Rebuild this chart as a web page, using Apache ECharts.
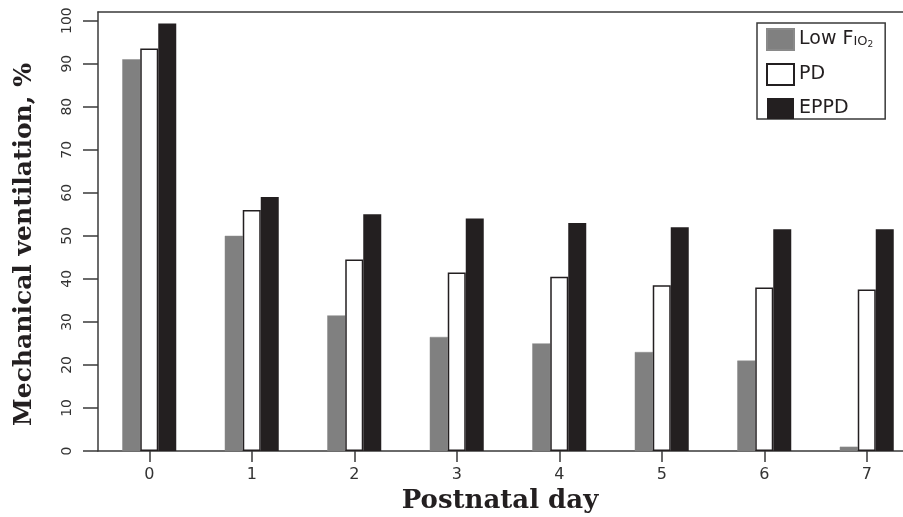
<!DOCTYPE html>
<html>
<head>
<meta charset="utf-8">
<script src="https://cdn.jsdelivr.net/npm/echarts@6/dist/echarts.min.js"></script>
<style>
html, body { margin: 0; padding: 0; background: #fff; }
#chart { width: 903px; height: 517px; }
</style>
</head>
<body>
<div id="chart"></div>
<script>
const categories = ['0', '1', '2', '3', '4', '5', '6', '7'];
const seriesNames = ['Low FIO2', 'PD', 'EPPD'];
const lowFio2 = [91, 50, 31.5, 26.5, 25, 23, 21, 1];
const pd = [93.5, 56, 44.5, 41.5, 40.5, 38.5, 38, 37.5];
const eppd = [99.3, 59, 55, 54, 53, 52, 51.5, 51.5];
const yTicks = [0, 10, 20, 30, 40, 50, 60, 70, 80, 90, 100];

const chart = echarts.init(document.getElementById('chart'), null, { renderer: 'canvas' });
const lineColor = '#3a3a3a';
const option = {
  animation: false,
  backgroundColor: '#ffffff',
  grid: {
    left: 98, top: 12, width: 820, height: 439,
    outerBoundsMode: 'none',
    containLabel: false,
    show: false
  },
  legend: {
    orient: 'vertical',
    left: 757, top: 23,
    padding: [5, 12, 0, 9],
    borderColor: lineColor, borderWidth: 1.5,
    itemWidth: 27, itemHeight: 21, itemGap: 12,
    icon: 'rect',
    data: seriesNames,
    textStyle: {
      fontFamily: 'DejaVu Sans', fontSize: 19, color: '#231f20', lineHeight: 21,
      rich: {
        a: { fontFamily: 'DejaVu Sans', fontSize: 19, color: '#231f20' },
        b: { fontFamily: 'DejaVu Sans', fontSize: 13, color: '#231f20', padding: [4, 0, 0, 0] },
        c: { fontFamily: 'DejaVu Sans', fontSize: 9, color: '#231f20', padding: [11, 0, 0, 0] }
      }
    },
    formatter: function (name) {
      if (name === 'Low FIO2') return '{a|Low F}{b|IO}{c|2}';
      return name;
    }
  },
  xAxis: [
    {
      type: 'category',
      data: categories,
      axisLine: { show: true, lineStyle: { color: lineColor, width: 1.5 } },
      axisTick: { show: true, alignWithLabel: true, length: 11, lineStyle: { color: lineColor, width: 1.5 } },
      axisLabel: { fontFamily: 'DejaVu Sans', fontSize: 16, color: '#333', margin: 16 },
      name: 'Postnatal day',
      nameLocation: 'middle',
      nameGap: 37,
      nameTextStyle: { fontFamily: 'DejaVu Serif', fontWeight: 'bold', fontSize: 26, color: '#231f20', padding: [0, 16, 0, 0] }
    },
    {
      type: 'category',
      data: categories,
      position: 'top',
      axisLine: { show: true, lineStyle: { color: lineColor, width: 1.5 } },
      axisTick: { show: false },
      axisLabel: { show: false }
    }
  ],
  yAxis: {
    type: 'value',
    min: 0, max: 102,
    interval: 10,
    splitLine: { show: false },
    axisLine: { show: true, lineStyle: { color: lineColor, width: 1.5 } },
    axisTick: { show: true, length: 15, customValues: yTicks, lineStyle: { color: lineColor, width: 1.5 } },
    axisLabel: {
      rotate: 90, fontFamily: 'DejaVu Sans', fontSize: 14, color: '#333', margin: 24,
      customValues: yTicks
    },
    name: 'Mechanical ventilation, %',
    nameLocation: 'middle',
    nameGap: 61,
    nameRotate: 90,
    nameTextStyle: { fontFamily: 'DejaVu Serif', fontWeight: 'bold', fontSize: 25, color: '#231f20', padding: [0, 26, 0, 0] }
  },
  series: [
    {
      name: seriesNames[0], type: 'bar', data: lowFio2, barWidth: 18, barGap: '0%',
      itemStyle: { color: '#808080', borderColor: '#8a8a8a', borderWidth: 0.5 }
    },
    {
      name: seriesNames[1], type: 'bar', data: pd, barWidth: 18, barGap: '0%',
      itemStyle: { color: '#ffffff', borderColor: '#231f20', borderWidth: 1.5 }
    },
    {
      name: seriesNames[2], type: 'bar', data: eppd, barWidth: 18, barGap: '0%',
      itemStyle: { color: '#231f20' }
    }
  ]
};
chart.setOption(option);
</script>
</body>
</html>
